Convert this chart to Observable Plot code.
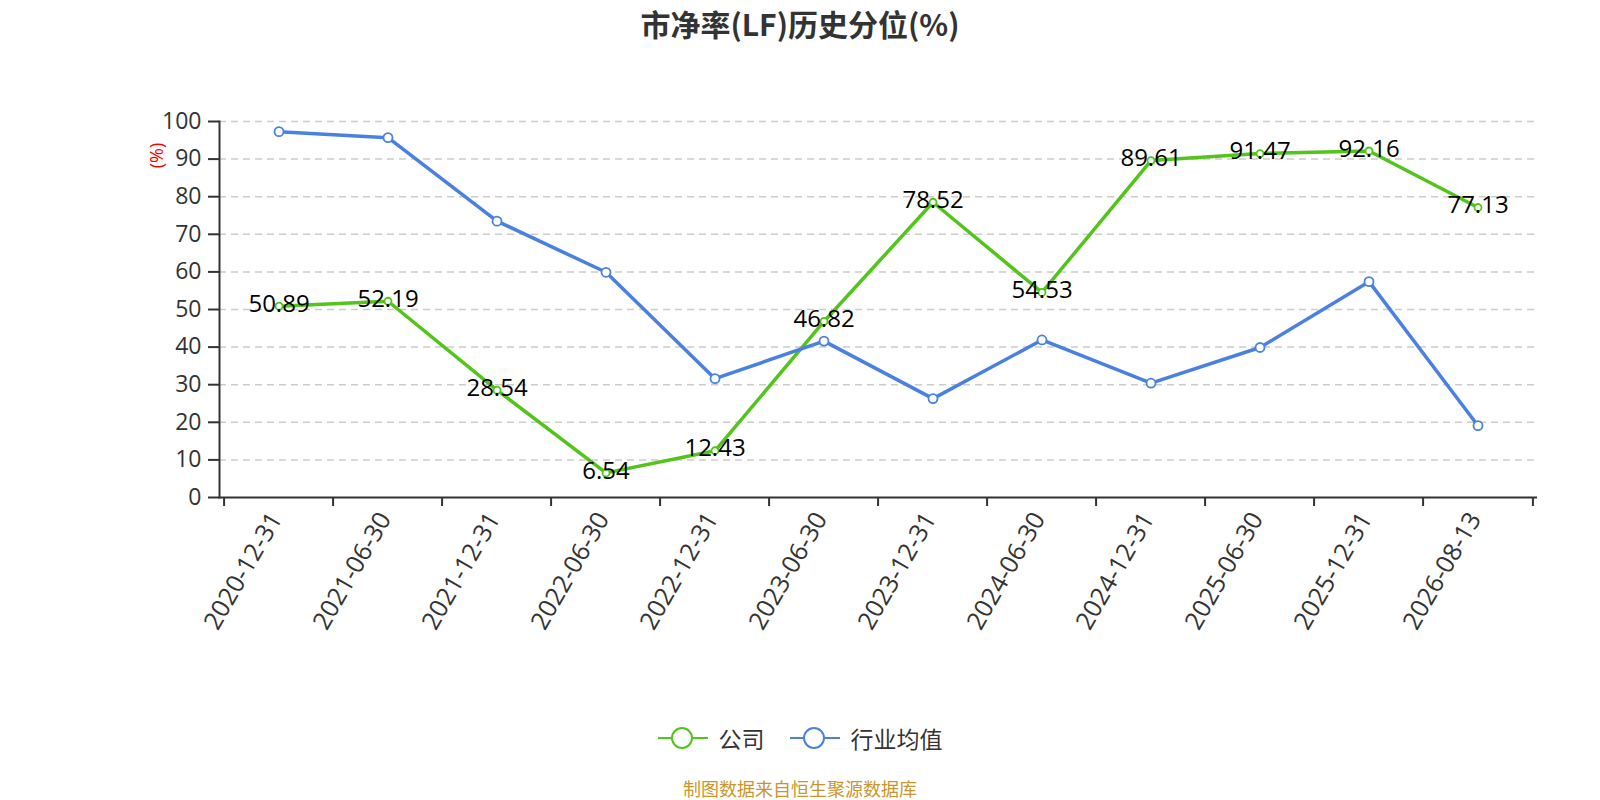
<!DOCTYPE html>
<html><head><meta charset="utf-8">
<script src="https://cdn.jsdelivr.net/npm/d3@7"></script>
<script src="https://cdn.jsdelivr.net/npm/@observablehq/plot@0.6"></script>
<style>
body{margin:0;background:#fff;font-family:"Open Sans","Noto Sans CJK SC",sans-serif;width:1600px;height:800px;overflow:hidden}
#title{height:46px;line-height:46px;text-align:center;font-size:30px;font-weight:bold;color:#333;font-family:"Noto Sans CJK SC",sans-serif}
#chart{height:654px}
#legend{height:76px;display:flex;justify-content:center;align-items:center;font-size:23px;color:#333;font-family:"Noto Sans CJK SC",sans-serif}
#legend .item{display:flex;align-items:center}
#legend svg{margin-right:11px}
#footer{height:24px;line-height:24px;text-align:center;font-size:18px;color:#c8962e;font-family:"Noto Sans CJK SC",sans-serif}
</style></head>
<body>
<div id="title">市净率(LF)历史分位(%)</div>
<div id="chart"></div>
<div id="legend"></div>
<div id="footer">制图数据来自恒生聚源数据库</div>
<script>
const dates = ["2020-12-31","2021-06-30","2021-12-31","2022-06-30","2022-12-31","2023-06-30","2023-12-31","2024-06-30","2024-12-31","2025-06-30","2025-12-31","2026-08-13"];
const company = [50.89,52.19,28.54,6.54,12.43,46.82,78.52,54.53,89.61,91.47,92.16,77.13];
const industry = [97.3,95.7,73.5,59.9,31.6,41.6,26.3,41.9,30.4,39.9,57.4,19.1];
const yTicks = [0,10,20,30,40,50,60,70,80,90,100];
const seriesNames = ["公司","行业均值"];
const green = "#52c41a", blue = "#4a80e0";

const rowsA = dates.map((d,i)=>({date:d, value:company[i]}));
const rowsB = dates.map((d,i)=>({date:d, value:industry[i]}));

const W = 1600, H = 654, mL = 219, mR = 63, mT = 75, mB = 203;
const bw = (W - mL - mR) / dates.length;
const font = '"Open Sans","Noto Sans CJK SC",sans-serif';

const chart = Plot.plot({
  width: W, height: H,
  marginLeft: mL, marginRight: mR, marginTop: mT, marginBottom: mB,
  style: {fontFamily: font, fontSize: "23px", color: "#333", background: "#fff", overflow: "visible"},
  x: {type: "band", domain: dates, padding: 0, label: null},
  y: {domain: [0, 100], label: null},
  marks: [
    Plot.gridY(yTicks.filter(v => v > 0), {stroke: "#ccc", strokeOpacity: 1, strokeWidth: 1.5, strokeDasharray: "7,5"}),
    Plot.frame({anchor: "left", stroke: "#333", strokeWidth: 2}),
    Plot.ruleY([0], {stroke: "#333", strokeWidth: 2}),
    Plot.axisY({ticks: yTicks, tickSize: 11, tickPadding: 7, fontSize: 23, stroke: "#333", strokeWidth: 2, fill: "#333", label: null}),
    Plot.ruleX(dates, {x: d => d, y1: 0, y2: 0, insetBottom: -9, dx: -bw / 2, stroke: "#333", strokeWidth: 2}),
    Plot.ruleX(dates.slice(-1), {x: d => d, y1: 0, y2: 0, insetBottom: -9, dx: bw / 2, stroke: "#333", strokeWidth: 2}),
    Plot.axisX({tickSize: 0, tickPadding: 17, tickRotate: -60, fontSize: 25, fill: "#333", dx: -3, label: null}),
    Plot.text(["(%)"], {frameAnchor: "top-left", dx: -62, dy: 34, rotate: -90, textAnchor: "middle", lineAnchor: "middle", fill: "red", fontSize: 18}),
    Plot.lineY(rowsA, {x: "date", y: "value", stroke: green, strokeWidth: 3.5}),
    Plot.dot(rowsA, {x: "date", y: "value", r: 3.5, fill: "#fff", stroke: green, strokeWidth: 1.8}),
    Plot.lineY(rowsB, {x: "date", y: "value", stroke: blue, strokeWidth: 3.5}),
    Plot.dot(rowsB, {x: "date", y: "value", r: 4.5, fill: "#fff", stroke: blue, strokeWidth: 1.8}),
    Plot.text(rowsA, {x: "date", y: "value", text: d => d.value.toFixed(2), fontSize: 24, fill: "#000", dy: -2})
  ]
});
document.getElementById("chart").appendChild(chart);

const legend = document.getElementById("legend");
[[seriesNames[0], green], [seriesNames[1], blue]].forEach(([name, c], k) => {
  const item = document.createElement("div");
  item.className = "item";
  if (k > 0) item.style.marginLeft = "25px";
  item.innerHTML = `<svg width="50" height="24"><line x1="0" y1="12" x2="50" y2="12" stroke="${c}" stroke-width="2"/><circle cx="24" cy="12" r="10" fill="#fff" stroke="${c}" stroke-width="2"/></svg><span>${name}</span>`;
  legend.appendChild(item);
});
</script>
</body></html>
